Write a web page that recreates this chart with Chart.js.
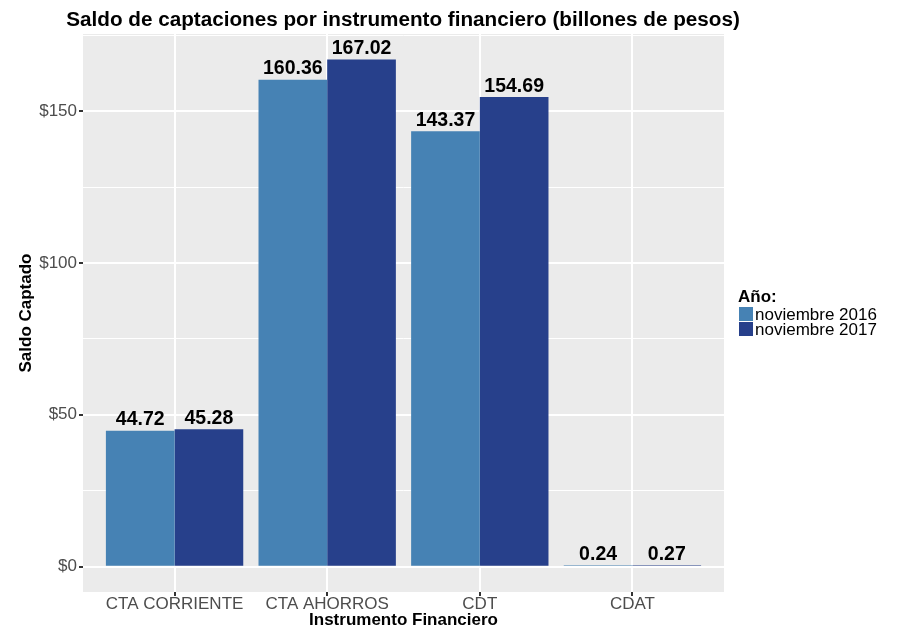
<!DOCTYPE html>
<html>
<head>
<meta charset="utf-8">
<script src="https://cdn.jsdelivr.net/npm/chart.js@4/dist/chart.umd.min.js"></script>
<style>
  html, body { margin: 0; padding: 0; background: #fff; }
  #wrap { width: 901px; height: 629px; }
</style>
</head>
<body>
<div id="wrap"><canvas id="chart" width="901" height="629"></canvas></div>
<script>
// datos
const instrumentos = ['CTA CORRIENTE', 'CTA AHORROS', 'CDT', 'CDAT'];
const nov2016 = [44.72, 160.36, 143.37, 0.24];
const nov2017 = [45.28, 167.02, 154.69, 0.27];
const series = ['noviembre 2016', 'noviembre 2017'];
const yTicks = [0, 50, 100, 150];

const colores = ['#4682b4', '#27408b'];
const FONT = "'Liberation Sans', Arial, sans-serif";

// fondo gris del panel, etiquetas y textos estilo ggplot
const decor = {
  id: 'decor',
  beforeDraw(chart) {
    const { ctx, chartArea: a } = chart;
    ctx.save();
    ctx.fillStyle = '#ebebeb';
    ctx.fillRect(a.left, a.top, a.right - a.left, a.bottom - a.top);
    ctx.restore();
  },
  afterDatasetsDraw(chart) {
    const ctx = chart.ctx;
    ctx.save();
    ctx.fillStyle = '#000';
    ctx.font = 'bold 19.5px ' + FONT;
    ctx.textAlign = 'center';
    ctx.textBaseline = 'bottom';
    chart.data.datasets.forEach((ds, i) => {
      chart.getDatasetMeta(i).data.forEach((bar, j) => {
        ctx.fillText(ds.data[j].y.toFixed(2), bar.x, bar.y - 1);
      });
    });
    ctx.restore();
  },
  afterDraw(chart) {
    const ctx = chart.ctx;
    const a = chart.chartArea;
    ctx.save();
    ctx.fillStyle = '#000';
    ctx.textBaseline = 'middle';
    ctx.textAlign = 'center';
    ctx.font = 'bold 20.7px ' + FONT;
    ctx.fillText('Saldo de captaciones por instrumento financiero (billones de pesos)', 403, 20);
    ctx.font = 'bold 17px ' + FONT;
    ctx.fillText('Instrumento Financiero', (a.left + a.right) / 2, 620);
    ctx.save();
    ctx.translate(26, (a.top + a.bottom) / 2);
    ctx.rotate(-Math.PI / 2);
    ctx.fillText('Saldo Captado', 0, 0);
    ctx.restore();
    // leyenda
    ctx.textAlign = 'left';
    ctx.fillText('Año:', 738, 297);
    ctx.font = '17px ' + FONT;
    series.forEach((s, i) => {
      const y = 307 + i * 15;
      ctx.fillStyle = colores[i];
      ctx.fillRect(739, y, 14, 14);
      ctx.fillStyle = '#000';
      ctx.fillText(s, 755, y + 8);
    });
    ctx.restore();
  }
};

new Chart(document.getElementById('chart'), {
  type: 'bar',
  data: {
    datasets: [
      {
        label: series[0],
        data: nov2016.map((v, i) => ({ x: i, y: v })),
        backgroundColor: colores[0],
        borderWidth: 0,
        inflateAmount: 0,
        minBarLength: 1.5
      },
      {
        label: series[1],
        data: nov2017.map((v, i) => ({ x: i, y: v })),
        backgroundColor: colores[1],
        borderWidth: 0,
        inflateAmount: 0,
        minBarLength: 1.5
      }
    ]
  },
  options: {
    responsive: false,
    animation: false,
    layout: { padding: { top: 34, right: 177, left: 0, bottom: 0 } },
    categoryPercentage: 0.9,
    barPercentage: 1.0,
    plugins: {
      legend: { display: false },
      tooltip: { enabled: false }
    },
    scales: {
      x: {
        type: 'linear',
        min: -0.6,
        max: 3.6,
        offset: false,
        border: { display: false },
        afterBuildTicks: scale => { scale.ticks = instrumentos.map((_, i) => ({ value: i })); },
        afterFit: scale => { scale.height = 37; },
        grid: { offset: false, color: '#ffffff', lineWidth: 2, tickColor: '#333333', tickLength: 4 },
        ticks: {
          callback: v => instrumentos[v],
          color: '#4d4d4d',
          font: { family: FONT, size: 17 },
          padding: -2,
          maxRotation: 0,
          autoSkip: false
        }
      },
      y: {
        min: -8.35,
        max: 175.4,
        border: { display: false },
        afterBuildTicks: scale => {
          scale.ticks = [0, 25, 50, 75, 100, 125, 150, 175].map(v => ({ value: v }));
        },
        afterFit: scale => { scale.width = 83; },
        grid: {
          color: '#ffffff',
          lineWidth: c => yTicks.includes(c.tick.value) ? 2 : 1,
          tickColor: c => yTicks.includes(c.tick.value) ? '#333333' : 'rgba(0,0,0,0)',
          tickLength: 4
        },
        ticks: {
          callback: v => yTicks.includes(v) ? '$' + v : '',
          color: '#4d4d4d',
          font: { family: FONT, size: 17 },
          padding: 2,
          autoSkip: false
        }
      }
    }
  },
  plugins: [decor]
});
</script>
</body>
</html>
